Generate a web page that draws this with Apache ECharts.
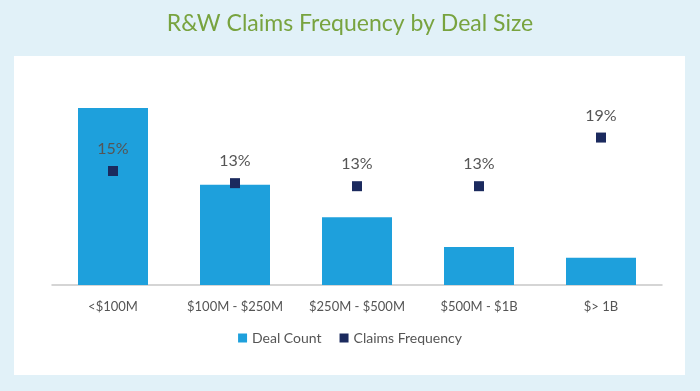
<!DOCTYPE html>
<html><head><meta charset="utf-8">
<script src="https://cdn.jsdelivr.net/npm/echarts@6/dist/echarts.min.js"></script>
<style>html,body{margin:0;padding:0;background:#e1f1f8}#c{width:700px;height:391px}</style>
</head><body><div id="c"></div>
<script>
const categories = ['<$100M', '$100M - $250M', '$250M - $500M', '$500M - $1B', '$> 1B'];
const dealCount = [233, 132, 89, 50, 36];
const claimsFrequency = [15.0, 13.4, 13.0, 13.0, 19.4];
const seriesNames = ['Deal Count', 'Claims Frequency'];
const titleText = 'R&W Claims Frequency by Deal Size';

const chart = echarts.init(document.getElementById('c'));
chart.setOption({
  backgroundColor: '#e1f1f8',
  textStyle: { fontFamily: 'Lato' },
  graphic: [{ type: 'rect', z: -10, shape: { x: 14, y: 56, width: 671, height: 319 }, style: { fill: '#ffffff' } }],
  title: { text: titleText, left: 'center', top: 7, textStyle: { color: '#78a33f', fontSize: 23, fontWeight: 'normal', fontFamily: 'Lato' } },
  legend: {
    bottom: 41, left: 'center', itemWidth: 9, itemHeight: 9, itemGap: 18,
    textStyle: { color: '#555', fontSize: 14 },
    data: [{ name: seriesNames[0], icon: 'rect' }, { name: seriesNames[1], icon: 'rect' }]
  },
  grid: { left: 52, right: 38, top: 95, bottom: 106, containLabel: false },
  xAxis: {
    type: 'category', data: categories,
    axisLine: { lineStyle: { color: '#c8c8c8', width: 1.5 } },
    axisTick: { show: false },
    axisLabel: { color: '#555', fontSize: 13, margin: 15, interval: 0 }
  },
  yAxis: [
    { type: 'value', min: 0, max: 250, show: false, splitLine: { show: false } },
    { type: 'value', min: 0, max: 25, show: false, splitLine: { show: false } }
  ],
  series: [
    { name: seriesNames[0], type: 'bar', data: dealCount, barWidth: 70, itemStyle: { color: '#1ea0dc' }, yAxisIndex: 0 },
    { name: seriesNames[1], type: 'scatter', data: claimsFrequency, yAxisIndex: 1, symbol: 'rect', symbolSize: 10,
      itemStyle: { color: '#1b2a5e', opacity: 1 },
      label: { show: true, position: 'top', distance: 9, color: '#555', fontSize: 16,
        formatter: p => Math.round(p.value) + '%' } }
  ]
});
</script></body></html>
